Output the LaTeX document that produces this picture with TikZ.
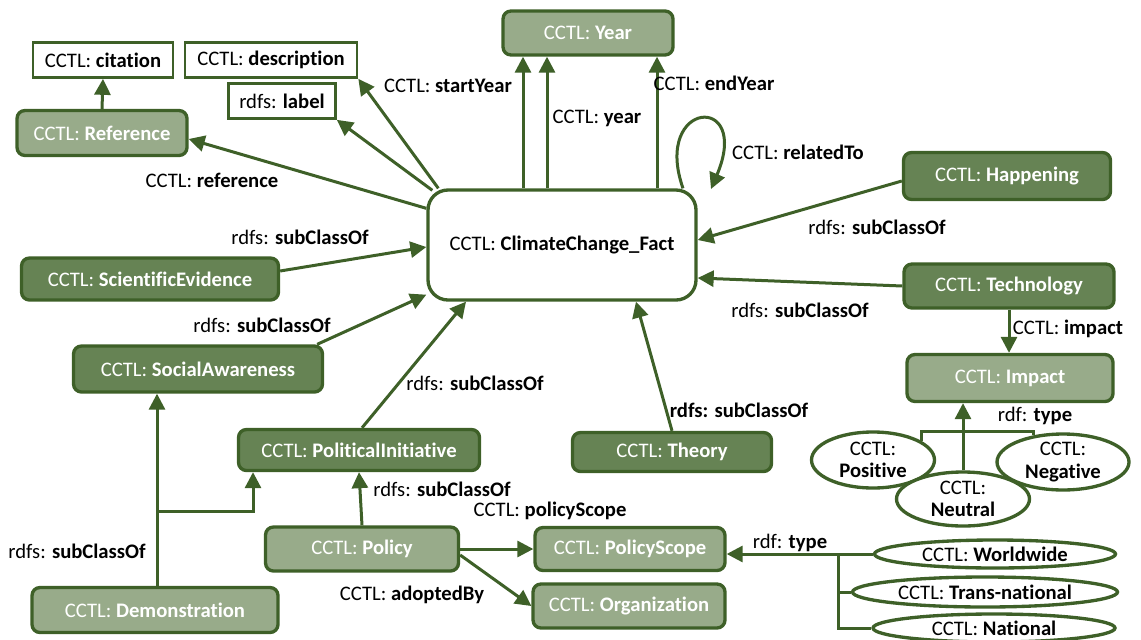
\documentclass[tikz,border=0pt]{standalone}
\usepackage{fontspec}
\setmainfont[Ligatures=NoCommon]{Carlito}
\usetikzlibrary{arrows.meta,shapes.geometric,calc}
\definecolor{edgegreen}{RGB}{62,96,40}
\definecolor{lightfill}{RGB}{152,171,138}
\definecolor{darkfill}{RGB}{102,131,84}
\begin{document}
\begin{tikzpicture}[x=0.75pt,y=-0.75pt,
  font=\fontsize{15.5}{17}\selectfont,
  box/.style={draw=edgegreen,line width=2.5pt,rounded corners=6pt,inner sep=0pt,text=white},
  lightbox/.style={box,fill=lightfill},
  darkbox/.style={box,fill=darkfill},
  attr/.style={draw=edgegreen,line width=2pt,fill=white,inner sep=0pt},
  inst/.style={ellipse,draw=edgegreen,line width=2.5pt,fill=white,inner sep=0pt,align=center},
  arr/.style={draw=edgegreen,line width=2.25pt,-{Triangle[length=12pt,width=12pt]}},
  link/.style={draw=edgegreen,line width=2.25pt},
  lbl/.style={inner sep=0pt}]
\useasboundingbox (0,0) rectangle (1141,639);

% central class
\node[draw=edgegreen,line width=2.5pt,rounded corners=15pt,fill=white,
      minimum width=201pt,minimum height=82.5pt] (ccf) at (562,245) {CCTL: \textbf{ClimateChange\_Fact}};

% attribute boxes
\node[attr,minimum width=105pt,minimum height=26.25pt] (cit) at (103,60) {CCTL: \textbf{citation}};
\node[attr,minimum width=129pt,minimum height=26.25pt] (desc) at (271,60) {CCTL: \textbf{description}};
\node[attr,minimum width=80.25pt,minimum height=26.25pt] (lab) at (282,101) {rdfs: \textbf{label}};

% classes
\node[lightbox,minimum width=127.5pt,minimum height=33.75pt] (ref) at (102,133) {CCTL: \textbf{Reference}};
\node[lightbox,minimum width=127.5pt,minimum height=33pt] (year) at (588,33) {CCTL: \textbf{Year}};
\node[darkbox,minimum width=155.25pt,minimum height=35.25pt] (hap) at (1007,176) {CCTL: \textbf{Happening}};
\node[darkbox,minimum width=157.5pt,minimum height=33pt] (tech) at (1009,286) {CCTL: \textbf{Technology}};
\node[lightbox,minimum width=154.5pt,minimum height=35.25pt] (imp) at (1010,378) {CCTL: \textbf{Impact}};
\node[darkbox,minimum width=192.75pt,minimum height=31.5pt] (sci) at (150,279) {CCTL: \textbf{ScientificEvidence}};
\node[darkbox,minimum width=186.75pt,minimum height=34.5pt] (soc) at (198,369) {CCTL: \textbf{SocialAwareness}};
\node[darkbox,minimum width=180.75pt,minimum height=30.75pt] (poli) at (359,450) {CCTL: \textbf{PoliticalInitiative}};
\node[darkbox,minimum width=149.25pt,minimum height=29.25pt] (theo) at (672,452) {CCTL: \textbf{Theory}};
\node[lightbox,minimum width=144.75pt,minimum height=33pt] (pcy) at (362,549) {CCTL: \textbf{Policy}};
\node[lightbox,minimum width=142.5pt,minimum height=32.25pt] (scope) at (630,549) {CCTL: \textbf{PolicyScope}};
\node[lightbox,minimum width=144pt,minimum height=33pt] (org) at (629,606) {CCTL: \textbf{Organization}};
\node[lightbox,minimum width=184.5pt,minimum height=33.75pt] (dem) at (155,610) {CCTL: \textbf{Demonstration}};

% individuals
\node[inst,minimum width=92.25pt,minimum height=42pt] (pos) at (873,460) {CCTL:\\\textbf{Positive}};
\node[inst,minimum width=99.75pt,minimum height=40.5pt] (neu) at (963,499) {CCTL:\\\textbf{Neutral}};
\node[inst,minimum width=99pt,minimum height=41.25pt] (neg) at (1063,462) {CCTL:\\\textbf{Negative}};
\node[inst,minimum width=180.75pt,minimum height=21pt] (world) at (995,554) {CCTL: \textbf{Worldwide}};
\node[inst,minimum width=198.75pt,minimum height=22.5pt] (trans) at (985,592) {CCTL: \textbf{Trans-national}};
\node[inst,minimum width=181.5pt,minimum height=21pt] (nat) at (994,628) {CCTL: \textbf{National}};

% properties of the central class
\draw[arr] (ref.north) -- (cit.south);
\draw[arr] ($(ccf.north west)+(0,20)$) -- ($(ref.east)+(0,6)$);
\draw[arr] ($(ccf.north west)+(6,2)$) -- (lab.south east);
\draw[arr] ($(ccf.north west)+(12,0)$) -- (desc.south east);
\draw[arr] ($(ccf.north)+(-39,0)$) -- ($(year.south)+(-65,0)$);
\draw[arr] ($(ccf.north)+(-15,0)$) -- ($(year.south)+(-41,0)$);
\draw[arr] ($(ccf.north)+(95,0)$) -- ($(year.south)+(69,0)$);
\coordinate (loopend) at (711,189);
\draw[arr] ($(ccf.north)+(121,0)$) .. controls (652,100) and (752,92) .. (loopend);

% subclass links into the central class
\draw[arr] ($(hap.west)+(0,5)$) -- ($(ccf.east)+(0,-5)$);
\draw[arr] (tech.west) -- ($(ccf.east)+(0,33)$);
\draw[arr] ($(sci.east)+(0,-8)$) -- ($(ccf.west)+(0,2)$);
\draw[arr] ($(soc.north east)+(-7,0)$) -- ($(ccf.south west)+(0,-7)$);
\draw[arr] ($(poli.north)+(3,0)$) -- ($(ccf.south)+(-96,0)$);
\draw[arr] (theo.north) -- ($(ccf.south)+(74,0)$);

% lower part
\draw[arr] (tech.south) -- (tech.south |- imp.north);
\coordinate (d0) at ($(dem.north)+(2,0)$);
\draw[arr] (d0) -- (d0 |- soc.south);
\coordinate (dj) at ($(d0)+(0,-74)$);
\draw[arr] (dj) -| ($(poli.south)+(-106,0)$);
\draw[arr] (pcy.north) -- (poli.south);
\draw[arr] (pcy.east) -- (scope.west);
\draw[arr] ($(pcy.east)+(0,6)$) -- (org.west);

% rdf:type links
\draw[arr] (world.west) -- (world.west -| scope.east);
\coordinate (t0) at ($(world.west)+(-34,0)$);
\draw[link] (t0) |- (nat.west);
\draw[link] (t0 |- trans.west) -- (trans.west);
\draw[arr] (neu.north) -- (neu.north |- imp.south);
\draw[link] (pos.21) |- ($(imp.south)+(0,28)$) -| (neg.138);

% edge labels
\node[lbl] (lref) at (212,180) {CCTL: \textbf{reference}};
\node[lbl] (lstart) at (448,86) {CCTL: \textbf{startYear}};
\node[lbl] (lyear) at (597,118) {CCTL: \textbf{year}};
\node[lbl] (lend) at (714,83) {CCTL: \textbf{endYear}};
\node[lbl] (lrel) at (798,152) {CCTL: \textbf{relatedTo}};
\node[lbl] (lhap) at (877,227) {rdfs: \textbf{subClassOf}};
\node[lbl] (ltech) at (800,310) {rdfs: \textbf{subClassOf}};
\node[lbl] (limp) at (1068,329) {CCTL: \textbf{impact}};
\node[lbl] (lsci) at (300,237) {rdfs: \textbf{subClassOf}};
\node[lbl] (lsoc) at (262,325) {rdfs: \textbf{subClassOf}};
\node[lbl] (lpoli) at (475,383) {rdfs: \textbf{subClassOf}};
\node[lbl] (ltheo) at (739,410) {\textbf{rdfs: subClassOf}};
\node[lbl] (ldem) at (77,551) {rdfs: \textbf{subClassOf}};
\node[lbl] (lpcy) at (442,489) {rdfs: \textbf{subClassOf}};
\node[lbl] (lscope) at (550,511) {CCTL: \textbf{policyScope}};
\node[lbl] (ladopt) at (412,595) {CCTL: \textbf{adoptedBy}};
\node[lbl] (ltype) at (790,543) {rdf: \textbf{type}};
\node[lbl] (ltypei) at (1035,416) {rdf: \textbf{type}};
\end{tikzpicture}
\end{document}
